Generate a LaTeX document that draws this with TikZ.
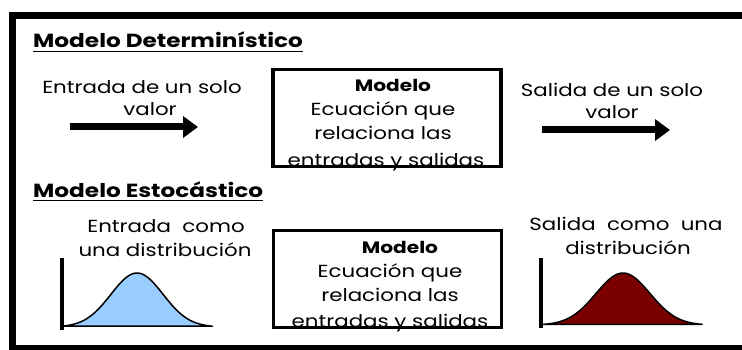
\documentclass[tikz,border=0pt]{standalone}
\usepackage{fontspec}
\setmainfont{Poppins}[FakeStretch=1.22]
\usepackage{xcolor}
\usetikzlibrary{positioning,arrows.meta}
\definecolor{azulclaro}{RGB}{153,204,255}
\definecolor{rojooscuro}{RGB}{122,0,0}
\tikzset{
titulo/.style={
font=\fontsize{19}{23}\selectfont\bfseries,
inner sep=0pt,
anchor=base west
},
texto/.style={
font=\fontsize{17.5}{23.5}\selectfont,
inner sep=0pt,
anchor=base
},
negrita/.style={
font=\fontsize{16.5}{23.5}\selectfont\bfseries,
inner sep=0pt,
anchor=base
},
caja/.style={
draw,
line width=3.5pt,
minimum width=228pt,
minimum height=97pt,
inner sep=0pt
},
flecha/.style={
-{Triangle[length=15pt,width=21pt]},
line width=7pt
},
eje/.style={
line width=3.5pt
},
campana/.style={
draw,
line width=1.5pt,
line join=round
}
}

\begin{document}
\begin{tikzpicture}[x=1pt,y=-1pt]
\useasboundingbox (0,0) rectangle (742,350);
% marco
\draw[line width=7pt] (760,15.5) -- (12.5,15.5) -- (12.5,348) -- (760,348);

% modelo deterministico
\node[titulo](tA) at (33,48){Modelo Determinístico};
\draw[line width=1.6pt] ([yshift=-3.5pt]tA.base west) -- ([yshift=-3.5pt]tA.base east);
\node[texto](entA1) at (142,94){Entrada de un solo};
\node[texto](entA2) at (150,116){valor};
\coordinate (fa1) at (70,127);
\coordinate (fa2) at (198,127);
\draw[flecha](fa1)--(fa2);
\node[negrita](modA) at (393,92){Modelo};
\node[texto](ecA1) at (383,116){Ecuación que};
\node[texto](ecA2) at (383,139.5){relaciona las};
\node[texto](ecA3) at (386,166.5){entradas y salidas};
\node[caja](cajaA) at (387,118){};
\node[texto](salA1) at (612,97){Salida de un solo};
\node[texto](salA2) at (612,119){valor};
\coordinate (fb1) at (542,130);
\coordinate (fb2) at (670,130);
\draw[flecha](fb1)--(fb2);

% modelo estocastico
\node[titulo](tB) at (33,197){Modelo Estocástico};
\draw[line width=1.6pt] ([yshift=-3.5pt]tB.base west) -- ([yshift=-3.5pt]tB.base east);
\node[texto](entB1) at (166,233){Entrada\ \ como};
\node[texto](entB2) at (165,256){una distribución};
\node[negrita](modB) at (400,253){Modelo};
\node[texto](ecB1) at (390,277){Ecuación que};
\node[texto](ecB2) at (390,301){relaciona las};
\node[texto](ecB3) at (390,327.5){entradas y salidas};
\node[caja](cajaB) at (387.5,279){};
\node[texto](salB1) at (626,230){Salida\ \ como\ \ una};
\node[texto](salB2) at (628,254){distribución};

% campanas
\draw[campana,fill=azulclaro] plot[domain=-2.9:2.9,samples=60,smooth]
({137+26*\x},{327-54*exp(-0.5*(\x)*(\x))}) -- cycle;
\draw[eje](62,258)--(62,329.5);
\draw[campana,fill=rojooscuro] plot[domain=-3.04:2.93,samples=60,smooth]
({623+27*\x},{325-52*exp(-0.5*(\x)*(\x))}) -- cycle;
\draw[eje](541,258)--(541,327.5);
\end{tikzpicture}
\end{document}
